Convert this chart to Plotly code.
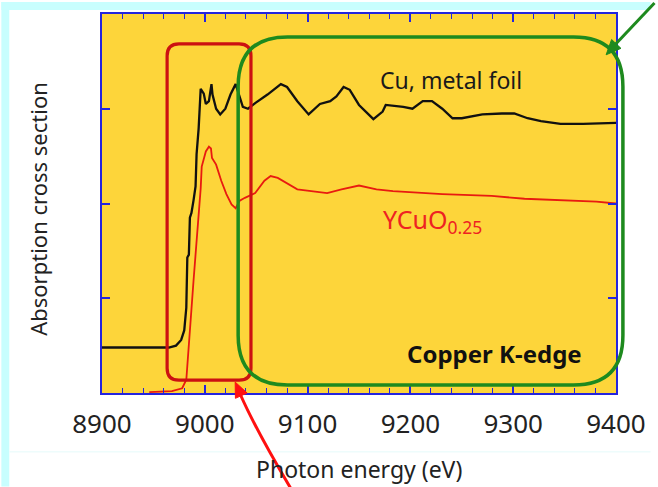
import math
import plotly.graph_objects as go

# ---------------- data ----------------
cu_energy = [8900, 8965, 8972, 8977, 8980, 8982, 8983, 8984.5, 8985.5, 8987, 8989,
             8991, 8992, 8994, 8996, 8999, 9001, 9004, 9006.5, 9007.5, 9011, 9015,
             9020, 9025, 9030, 9034, 9037, 9042, 9049, 9061, 9074, 9080, 9090,
             9101, 9112, 9122, 9128, 9135, 9141, 9150, 9164, 9173, 9176, 9193,
             9202, 9212, 9221, 9231, 9241, 9250, 9270, 9289, 9301, 9314, 9327,
             9346, 9368, 9400]
cu_absorption = [0.48, 0.48, 0.50, 0.56, 0.66, 0.90, 1.43, 1.46, 1.85, 1.90, 2.03,
                 2.18, 2.52, 2.79, 3.21, 3.16, 3.05, 3.08, 3.26, 3.15, 3.00, 2.94,
                 3.00, 3.15, 3.26, 3.11, 3.02, 3.00, 3.06, 3.15, 3.26, 3.23, 3.08,
                 2.94, 3.05, 3.08, 3.13, 3.23, 3.20, 3.04, 2.89, 2.97, 3.04, 3.02,
                 3.00, 3.08, 3.08, 3.00, 2.90, 2.90, 2.94, 2.95, 2.95, 2.90, 2.87,
                 2.84, 2.84, 2.85]

ycuo_energy = [8946, 8968, 8978, 8982, 8989, 8993, 8996, 8997, 9001, 9004, 9006,
               9007, 9011, 9016, 9021, 9026, 9030, 9034, 9039, 9049, 9058, 9064,
               9071, 9090, 9119, 9133, 9150, 9167, 9183, 9231, 9279, 9311, 9381, 9400]
ycuo_absorption = [0.01, 0.02, 0.05, 0.14, 1.18, 1.71, 2.16, 2.39, 2.55, 2.60, 2.58,
                   2.48, 2.41, 2.24, 2.10, 1.99, 1.95, 2.03, 2.06, 2.11, 2.24, 2.29,
                   2.27, 2.15, 2.11, 2.15, 2.19, 2.15, 2.13, 2.10, 2.08, 2.05, 2.02, 2.00]

x_ticks = [8900, 9000, 9100, 9200, 9300, 9400]
x_ticklabels = ["8900", "9000", "9100", "9200", "9300", "9400"]
y_ticks = [1, 2, 3]

# ---------------- layout helpers (pixel -> paper) ----------------
W, H = 658, 487
ML, MR, MT, MB = 102, 35, 12, 94
PW, PH = W - ML - MR, H - MT - MB


def px(xp):
    return (xp - ML) / PW


def py(yp):
    return (H - MB - yp) / PH


def rounded_rect(x0, y0, x1, y1, r):
    rx, ry = r / PW, r / PH
    a, b, c, d = px(x0), py(y1), px(x1), py(y0)  # left, bottom, right, top
    return (f"M {a+rx},{d} L {c-rx},{d} Q {c},{d} {c},{d-ry} "
            f"L {c},{b+ry} Q {c},{b} {c-rx},{b} L {a+rx},{b} Q {a},{b} {a},{b+ry} "
            f"L {a},{d-ry} Q {a},{d} {a+rx},{d} Z")


def arrow_head(tip, frm, length=15, half=6.5):
    dx, dy = tip[0] - frm[0], tip[1] - frm[1]
    n = math.hypot(dx, dy)
    ux, uy = dx / n, dy / n
    bx, by = tip[0] - ux * length, tip[1] - uy * length
    p1 = (bx - uy * half, by + ux * half)
    p2 = (bx + uy * half, by - ux * half)
    pts = [tip, p1, p2]
    return "M " + " L ".join(f"{px(p[0])},{py(p[1])}" for p in pts) + " Z"


fig = go.Figure()
fig.add_trace(go.Scatter(x=cu_energy, y=cu_absorption, mode="lines",
                         line=dict(color="#111111", width=2.3), showlegend=False))
fig.add_trace(go.Scatter(x=ycuo_energy, y=ycuo_absorption, mode="lines",
                         line=dict(color="#E81A10", width=1.8), showlegend=False))

CYAN = "#C8FEFE"
GREEN = "#1E8A1E"
RED_ARROW = "#FF1010"
shapes = [
    dict(type="rect", xref="paper", yref="paper", x0=px(0), x1=px(8), y0=py(H), y1=py(0),
         fillcolor=CYAN, line=dict(width=0), layer="below"),
    dict(type="rect", xref="paper", yref="paper", x0=px(0), x1=px(W), y0=py(8), y1=py(0),
         fillcolor=CYAN, line=dict(width=0), layer="below"),
    dict(type="line", xref="paper", yref="paper", x0=px(8), x1=px(W), y0=py(452), y1=py(452),
         line=dict(color="#EEFCFC", width=1.5), layer="below"),
    dict(type="path", xref="paper", yref="paper", path=rounded_rect(168, 42, 253, 380, 12),
         line=dict(color="#CC1111", width=3.2)),
    dict(type="path", xref="paper", yref="paper", path=rounded_rect(240, 35, 630, 385, 50),
         line=dict(color=GREEN, width=3.5)),
    # green arrow (top right)
    dict(type="line", xref="paper", yref="paper", x0=px(662), y0=py(1), x1=px(622), y1=py(43),
         line=dict(color=GREEN, width=3)),
    dict(type="path", xref="paper", yref="paper", path=arrow_head((613, 53), (662, 1)),
         fillcolor=GREEN, line=dict(color=GREEN, width=1)),
    # red arrow (bottom)
    dict(type="path", xref="paper", yref="paper",
         path=f"M {px(294)},{py(490)} Q {px(258)},{py(430)} {px(242)},{py(394)}",
         line=dict(color=RED_ARROW, width=3)),
    dict(type="path", xref="paper", yref="paper", path=arrow_head((237, 382), (246, 402)),
         fillcolor=RED_ARROW, line=dict(color=RED_ARROW, width=1)),
]

FONT = "Noto Sans"


def label(text, x, y, size, color, xanchor="center", yanchor="middle", angle=0):
    return dict(text=text, xref="paper", yref="paper", x=px(x), y=py(y),
                xanchor=xanchor, yanchor=yanchor, textangle=angle, showarrow=False,
                font=dict(family=FONT, size=size, color=color))


annotations = [
    label("Cu, metal foil", 456, 78, 23, "#1a1a1a"),
    label("<b>Copper K-edge</b>", 500, 353, 24, "#111111"),
    label("YCuO<sub>0.25</sub>", 385, 199, 25, "#EE2222", xanchor="left", yanchor="top"),
    label("Absorption cross section", 37, 208, 22, "#222222", angle=-90),
    label("Photon energy (eV)", 362, 469, 23, "#222222"),
]

AXIS_BLUE = "#2424DD"
fig.update_layout(
    width=W, height=H,
    margin=dict(l=ML, r=MR, t=MT, b=MB, pad=0),
    paper_bgcolor="white", plot_bgcolor="#FDD53A",
    shapes=shapes, annotations=annotations, showlegend=False,
    xaxis=dict(range=[8900, 9400], tickvals=x_ticks, ticktext=x_ticklabels,
               showgrid=False, zeroline=False, showline=True, linecolor=AXIS_BLUE,
               linewidth=2, mirror="ticks", ticks="inside", ticklen=8, tickwidth=1.5,
               tickcolor=AXIS_BLUE, tickfont=dict(family=FONT, size=26, color="#222222"),
               minor=dict(ticks="inside", dtick=20, tick0=8900, ticklen=5, tickwidth=1,
                          tickcolor=AXIS_BLUE, showgrid=False),
               ticklabelstandoff=7),
    yaxis=dict(range=[0, 4], tickvals=y_ticks, showticklabels=False, showgrid=False,
               zeroline=False, showline=True, linecolor=AXIS_BLUE, linewidth=2,
               mirror="ticks", ticks="inside", ticklen=8, tickwidth=1.5,
               tickcolor=AXIS_BLUE),
)

fig.write_html("out.html", config={"displayModeBar": False},
               post_script="document.body.style.margin='0px';")
